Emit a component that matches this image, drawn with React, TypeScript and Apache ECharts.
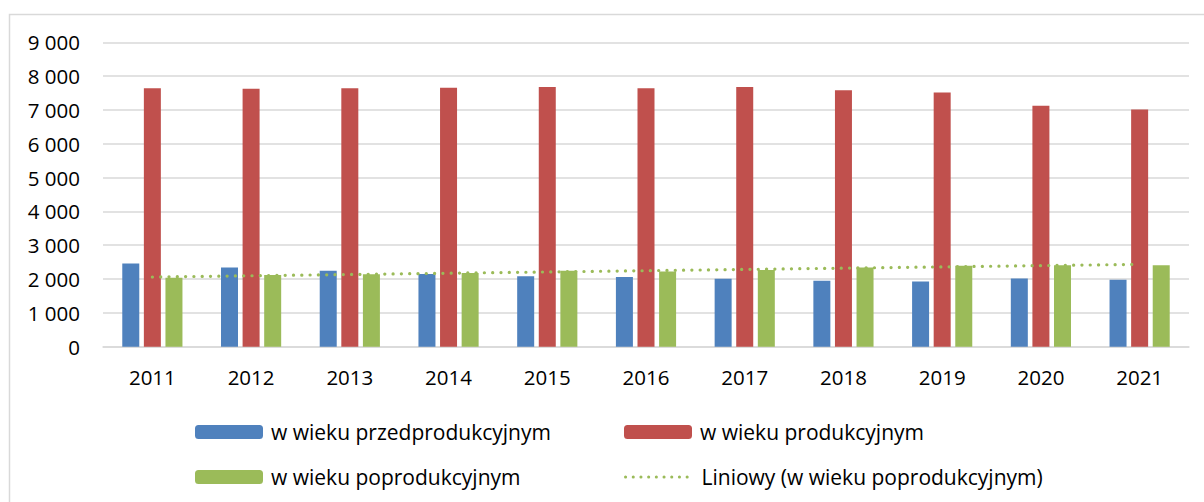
import React, { useEffect, useRef } from "react";
import * as echarts from "echarts";

const categories = ["2011", "2012", "2013", "2014", "2015", "2016", "2017", "2018", "2019", "2020", "2021"];
const preProductive = [2460, 2345, 2245, 2150, 2080, 2060, 2010, 1950, 1930, 2020, 1980];
const productive = [7645, 7625, 7645, 7655, 7675, 7645, 7675, 7585, 7515, 7125, 7015];
const postProductive = [2040, 2120, 2140, 2180, 2245, 2225, 2265, 2345, 2395, 2405, 2405];
// Trend line endpoints (first and last category)
const trendLine = [2060, null, null, null, null, null, null, null, null, null, 2435];
const yTicks = [0, 1000, 2000, 3000, 4000, 5000, 6000, 7000, 8000, 9000];

const names = [
  "w wieku przedprodukcyjnym",
  "w wieku produkcyjnym",
  "w wieku poprodukcyjnym",
  "Liniowy (w wieku poprodukcyjnym)",
];

const FONT = "'Open Sans', sans-serif";
const GREEN = "#9BBB59";

export default function App() {
  const ref = useRef<HTMLDivElement>(null);
  useEffect(() => {
    if (!ref.current) return;
    const chart = echarts.init(ref.current, undefined, { renderer: "svg" });
    const legendBase = {
      orient: "horizontal",
      padding: 0,
      itemWidth: 68,
      itemHeight: 14,
      textStyle: { fontFamily: FONT, fontSize: 21, color: "#000", lineHeight: 24, padding: [0, 0, 0, 3] },
      selectedMode: false,
    };
    chart.setOption({
      animation: false,
      backgroundColor: "#fff",
      graphic: [
        {
          type: "rect",
          shape: { x: 9.5, y: 14.5, width: 1400, height: 800 },
          style: { fill: "none", stroke: "#d9d9d9", lineWidth: 1.5 },
          silent: true,
        },
      ],
      grid: { left: 103, right: 15, top: 42.3, bottom: 155.3, containLabel: false },
      xAxis: {
        type: "category",
        data: categories,
        axisLine: { show: true, lineStyle: { color: "#d9d9d9", width: 1.5 } },
        axisTick: { show: false },
        axisLabel: { fontFamily: FONT, fontSize: 20.5, color: "#000", margin: 20 },
      },
      yAxis: {
        type: "value",
        min: yTicks[0],
        max: yTicks[yTicks.length - 1],
        interval: 1000,
        axisLine: { show: false },
        axisTick: { show: false },
        splitLine: { lineStyle: { color: "#d9d9d9", width: 1.5 } },
        axisLabel: {
          fontFamily: FONT,
          fontSize: 20.5,
          color: "#000",
          margin: 23,
          formatter: (v: number) => String(v).replace(/\B(?=(\d{3})+(?!\d))/g, " "),
        },
      },
      legend: [
        { ...legendBase, data: [names[0]], left: 195, top: 420 },
        { ...legendBase, data: [names[1]], left: 624, top: 420 },
        { ...legendBase, data: [names[2]], left: 195, top: 465 },
        {
          ...legendBase,
          data: [names[3]],
          left: 624,
          top: 465,
          itemStyle: { opacity: 0 },
          lineStyle: { color: GREEN, width: 3, type: [0.1, 7.6], cap: "round" },
        },
      ],
      series: [
        {
          name: names[0],
          type: "bar",
          data: preProductive,
          barWidth: 17,
          barGap: "27%",
          itemStyle: { color: "#4F81BD" },
        },
        {
          name: names[1],
          type: "bar",
          data: productive,
          barWidth: 17,
          barGap: "27%",
          itemStyle: { color: "#C0504D" },
        },
        {
          name: names[2],
          type: "bar",
          data: postProductive,
          barWidth: 17,
          barGap: "27%",
          itemStyle: { color: GREEN },
        },
        {
          name: names[3],
          type: "line",
          data: trendLine,
          connectNulls: true,
          symbol: "none",
          z: 5,
          itemStyle: { color: GREEN },
          lineStyle: { color: GREEN, width: 3.2, type: [0.1, 8.2], cap: "round" },
        },
      ],
    });
    return () => chart.dispose();
  }, []);
  return (
    <div
      ref={ref}
      style={{ position: "fixed", left: 0, top: 0, width: 1204, height: 502 }}
    />
  );
}
